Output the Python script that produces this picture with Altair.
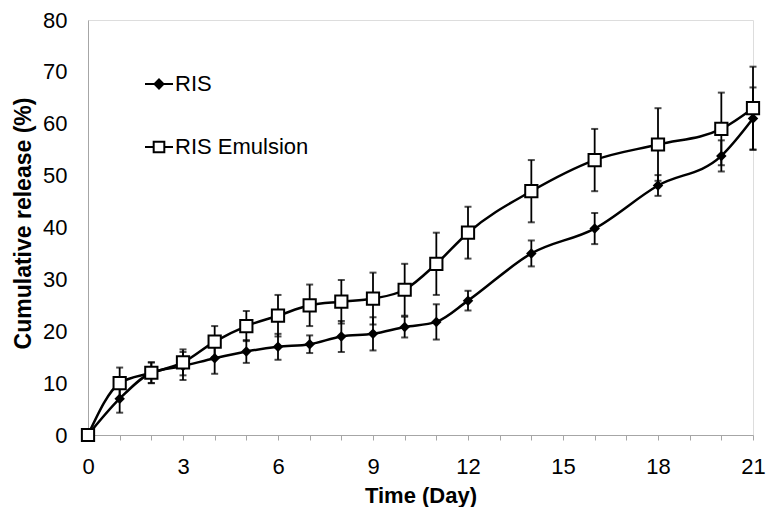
import altair as alt
import pandas as pd

days = [0, 1, 2, 3, 4, 5, 6, 7, 8, 9, 10, 11, 12, 14, 16, 18, 20, 21]
ris = [0, 7, 12, 13.3, 14.8, 16.1, 17, 17.5, 19, 19.5, 20.8, 21.8, 25.9, 35, 39.8, 48.1, 53.8, 61]
ris_err = [0, 2.7, 2, 2.7, 3, 2.2, 2.5, 1.7, 3, 3.2, 2, 3.4, 1.9, 2.5, 3, 2, 3, 6]
emul = [0, 10, 12, 14, 18, 21, 23, 25, 25.7, 26.3, 28, 33, 39, 47, 53, 56, 59, 63]
emul_err = [0, 3, 2, 2.5, 3, 2.9, 4, 4, 4.2, 5, 5, 6, 5, 6, 6, 7, 7, 8]

series_names = ["RIS", "RIS Emulsion"]
x_ticks = list(range(0, 22))
x_labels = [0, 3, 6, 9, 12, 15, 18, 21]
y_ticks = [0, 10, 20, 30, 40, 50, 60, 70, 80]

rows = []
for name, vals, errs in [(series_names[0], ris, ris_err), (series_names[1], emul, emul_err)]:
    for d, v, e in zip(days, vals, errs):
        rows.append({"day": d, "value": v, "lo": v - e, "hi": v + e, "series": name, "legend_series": name})
df = pd.DataFrame(rows)

FONT = "Liberation Sans"
xsc = alt.Scale(domain=[0, 21], nice=False, zero=False)
ysc = alt.Scale(domain=[0, 80], nice=False)

label_list = "[" + ",".join(str(v) for v in x_labels) + "]"
x_axis = alt.Axis(values=x_ticks,
                  labelExpr="indexof(" + label_list + ", datum.value) >= 0 ? format(datum.value, 'd') : ''",
                  labelOverlap=False,
                  title="Time (Day)", grid=False, domainColor="#a6a6a6", tickColor="#a6a6a6",
                  tickSize=5, tickWidth=1, labelFontSize=22, labelFont=FONT, labelColor="black",
                  labelBaseline="alphabetic", labelPadding=33, labelFlush=False,
                  titleFont=FONT, titleFontSize=22, titleFontWeight="bold", titleColor="black",
                  titleBaseline="alphabetic", titleY=67)
y_axis = alt.Axis(values=y_ticks, title="Cumulative release (%)", grid=False, ticks=False, tickSize=0,
                  domainColor="#a6a6a6", labelFontSize=22, labelFont=FONT, labelColor="black",
                  labelOverlap=False,
                  labelPadding=21, titleFont=FONT, titleFontSize=23, titleFontWeight="bold",
                  titleColor="black", titleX=-65, titleY=203, titleBaseline="middle", titleAngle=270)

X = alt.X("day:Q", scale=xsc, axis=x_axis)
Y = alt.Y("value:Q", scale=ysc, axis=y_axis)
Ylo = alt.Y("lo:Q", scale=ysc, axis=y_axis)
Yhi = alt.Y("hi:Q", scale=ysc, axis=y_axis)

base = alt.Chart(df)

lines = base.mark_line(interpolate="monotone", color="black", strokeWidth=2.5).encode(
    x=X, y=Y, detail="series:N",
)

err_rule = base.mark_rule(color="black", strokeWidth=1.8).encode(
    x=X, y=Ylo, y2="hi:Q")
cap_lo = base.mark_tick(orient="horizontal", size=7, thickness=2, color="black").encode(
    x=X, y=Ylo)
cap_hi = base.mark_tick(orient="horizontal", size=7, thickness=2, color="black").encode(
    x=X, y=Yhi)

ris_pts = base.transform_filter(alt.datum.series == "RIS").mark_point(
    shape="diamond", filled=True, color="black", size=110, opacity=1).encode(x=X, y=Y)
emul_pts = base.transform_filter(alt.datum.series == "RIS Emulsion").mark_point(
    shape="square", filled=False, fill="white", stroke="black", strokeWidth=2, size=150, opacity=1).encode(
    x=X, y=Y)

legend_paths = [
    "M-1,0H-0.32M0,-0.32L0.32,0L0,0.32L-0.32,0Z M0.32,0H1",
    "M-1,0H-0.38 M-0.38,-0.38H0.38V0.38H-0.38Z M0.38,0H1",
]


def make_legend():
    return alt.Legend(title=None, orient="none", legendX=56, legendY=49,
                      symbolSize=784, symbolStrokeWidth=2, symbolOpacity=1,
                      labelFont=FONT, labelFontSize=22,
                      labelColor="black", labelOffset=1, rowPadding=37, padding=0)


legend_layer = base.mark_point(strokeWidth=2, opacity=0).encode(
    x=X, y=Y,
    shape=alt.Shape("legend_series:N", scale=alt.Scale(domain=series_names, range=legend_paths),
                    legend=make_legend()),
    fill=alt.Fill("legend_series:N", scale=alt.Scale(domain=series_names, range=["black", "white"]),
                  legend=make_legend()),
    stroke=alt.Stroke("legend_series:N", scale=alt.Scale(domain=series_names, range=["black", "black"]),
                      legend=make_legend()),
)

chart = alt.layer(err_rule, cap_lo, cap_hi, lines, ris_pts, emul_pts, legend_layer).resolve_scale(
    shape="independent", fill="independent", stroke="independent"
).properties(
    width=665, height=415,
    autosize=alt.AutoSizeParams(type="none"),
    padding={"left": 80, "top": 12, "right": 14, "bottom": 72},
).configure_view(stroke=None).configure_axis(labelOverlap=False).configure(background="white")

chart.save("out.html", embed_options={"renderer": "svg", "actions": False})
